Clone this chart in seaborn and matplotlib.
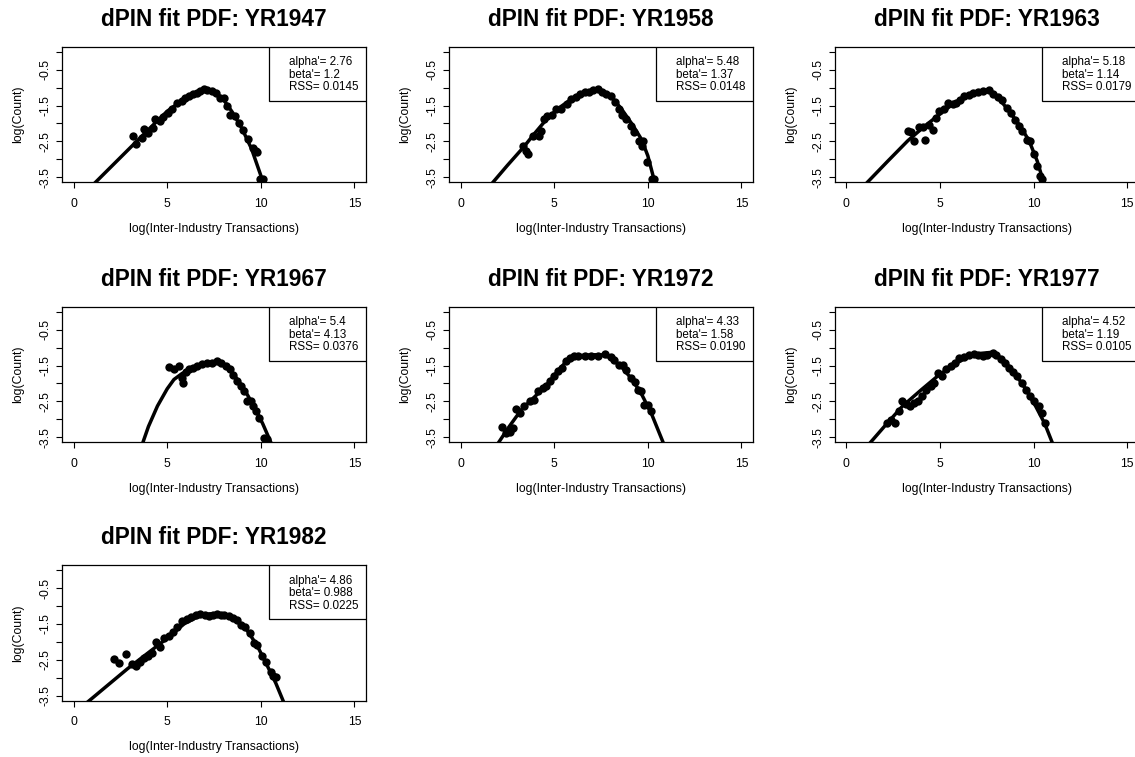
import numpy as np
import pandas as pd
import matplotlib
matplotlib.use("Agg")
import matplotlib.pyplot as plt
import seaborn as sns
from matplotlib.patches import Rectangle

years = ["1947", "1958", "1963", "1967", "1972", "1977", "1982"]
alpha_vals = ["2.76", "5.48", "5.18", "5.4", "4.33", "4.52", "4.86"]
beta_vals = ["1.2", "1.37", "1.14", "4.13", "1.58", "1.19", "0.988"]
rss_vals = ["0.0145", "0.0148", "0.0179", "0.0376", "0.0190", "0.0105", "0.0225"]

# observed points (log transactions, log count)
x_1947 = [3.15, 3.35, 3.65, 3.77, 3.95, 4.23, 4.36, 4.59, 4.80, 5.07, 5.25, 5.52, 5.78, 5.96, 6.14,
          6.37, 6.58, 6.76, 6.98, 7.15, 7.38, 7.62, 7.83, 8.04, 8.19, 8.36, 8.63, 8.86, 9.07, 9.29,
          9.56, 9.75, 9.82, 9.93, 10.14]
y_1947 = [-2.35, -2.58, -2.40, -2.15, -2.26, -2.12, -1.87, -1.94, -1.81, -1.70, -1.61, -1.43, -1.38, -1.29, -1.24,
          -1.19, -1.15, -1.10, -1.04, -1.06, -1.10, -1.15, -1.29, -1.29, -1.52, -1.75, -1.80, -1.98, -2.17, -2.44,
          -2.68, -2.77, -2.80, -3.55, -3.55]
x_1958 = [3.35, 3.47, 3.61, 3.88, 4.18, 4.32, 4.47, 4.64, 4.86, 5.12, 5.39, 5.66, 5.89, 6.14, 6.37,
          6.64, 6.85, 7.08, 7.35, 7.56, 7.79, 8.02, 8.24, 8.45, 8.63, 8.86, 9.09, 9.27, 9.52, 9.75,
          9.70, 9.93, 10.20, 10.34]
y_1958 = [-2.62, -2.76, -2.85, -2.34, -2.34, -2.20, -1.87, -1.78, -1.76, -1.60, -1.60, -1.46, -1.32, -1.27, -1.18,
          -1.13, -1.11, -1.08, -1.04, -1.11, -1.18, -1.24, -1.41, -1.60, -1.76, -1.87, -2.06, -2.25, -2.48, -2.48,
          -2.62, -3.08, -3.55, -3.55]
x_1963 = [3.29, 3.46, 3.64, 3.91, 4.09, 4.23, 4.41, 4.62, 4.80, 4.97, 5.24, 5.42, 5.68, 5.86, 6.07,
          6.31, 6.57, 6.75, 7.02, 7.28, 7.60, 7.85, 8.08, 8.31, 8.56, 8.79, 9.02, 9.24, 9.41, 9.63,
          9.80, 10.04, 10.21, 10.34, 10.44]
y_1963 = [-2.20, -2.25, -2.48, -2.11, -2.11, -2.45, -2.03, -2.17, -1.85, -1.66, -1.61, -1.43, -1.45, -1.43, -1.34,
          -1.24, -1.20, -1.15, -1.13, -1.10, -1.08, -1.17, -1.26, -1.34, -1.57, -1.71, -1.89, -2.08, -2.22, -2.45,
          -2.49, -2.86, -3.19, -3.47, -3.56]
x_1967 = [5.10, 5.36, 5.63, 5.81, 5.86, 5.99, 6.16, 6.39, 6.61, 6.87, 7.14, 7.41, 7.67, 7.89, 8.12,
          8.35, 8.53, 8.74, 8.95, 9.09, 9.27, 9.48, 9.59, 9.72, 9.89, 10.16, 10.34]
y_1967 = [-1.54, -1.59, -1.50, -1.84, -1.98, -1.69, -1.61, -1.56, -1.50, -1.47, -1.44, -1.44, -1.38, -1.43, -1.52,
          -1.61, -1.75, -1.94, -2.07, -2.21, -2.49, -2.49, -2.63, -2.77, -2.95, -3.51, -3.56]
x_1972 = [2.22, 2.45, 2.63, 2.81, 2.98, 3.16, 3.39, 3.69, 3.93, 4.14, 4.40, 4.58, 4.76, 4.99, 5.20,
          5.42, 5.65, 5.83, 6.06, 6.27, 6.63, 6.98, 7.34, 7.73, 8.01, 8.22, 8.44, 8.67, 8.85, 9.08,
          9.29, 9.47, 9.61, 9.82, 10.00, 10.18]
y_1972 = [-3.22, -3.37, -3.34, -3.24, -2.71, -2.82, -2.64, -2.50, -2.45, -2.22, -2.13, -2.08, -1.94, -1.78, -1.66,
          -1.57, -1.38, -1.29, -1.24, -1.23, -1.24, -1.23, -1.23, -1.17, -1.26, -1.34, -1.48, -1.48, -1.62, -1.85,
          -1.97, -2.17, -2.22, -2.59, -2.59, -2.78]
x_1977 = [2.19, 2.37, 2.60, 2.82, 3.00, 3.17, 3.39, 3.62, 3.85, 4.06, 4.28, 4.51, 4.69, 4.92, 5.13,
          5.35, 5.58, 5.81, 6.02, 6.29, 6.56, 6.83, 7.06, 7.31, 7.54, 7.81, 8.02, 8.25, 8.48, 8.70,
          8.91, 9.14, 9.38, 9.59, 9.80, 10.03, 10.27, 10.45, 10.62]
y_1977 = [-3.09, -3.03, -3.10, -2.78, -2.50, -2.56, -2.64, -2.55, -2.50, -2.36, -2.18, -2.08, -1.99, -1.71, -1.78,
          -1.60, -1.52, -1.43, -1.29, -1.26, -1.22, -1.17, -1.22, -1.24, -1.20, -1.15, -1.22, -1.32, -1.43, -1.57,
          -1.69, -1.80, -1.99, -2.18, -2.36, -2.50, -2.64, -2.81, -3.09]
x_1982 = [2.17, 2.43, 2.79, 3.14, 3.32, 3.55, 3.77, 3.98, 4.21, 4.39, 4.62, 4.83, 5.10, 5.33, 5.54,
          5.81, 6.04, 6.29, 6.52, 6.75, 7.00, 7.23, 7.46, 7.64, 7.85, 8.06, 8.29, 8.53, 8.74, 8.95,
          9.18, 9.41, 9.63, 9.80, 10.07, 10.25, 10.52, 10.66, 10.83]
y_1982 = [-2.47, -2.58, -2.33, -2.61, -2.66, -2.57, -2.45, -2.38, -2.30, -1.99, -2.15, -1.90, -1.84, -1.73, -1.59,
          -1.43, -1.37, -1.31, -1.26, -1.22, -1.26, -1.28, -1.24, -1.22, -1.24, -1.26, -1.28, -1.34, -1.40, -1.52,
          -1.59, -1.75, -2.03, -2.10, -2.38, -2.57, -2.83, -2.94, -2.98]

# fitted dPlN curves
fit_x_1947 = [1.0, 2.0, 3.0, 4.0, 5.0, 5.5, 6.0, 6.5, 7.0, 7.5, 8.0, 8.5, 9.0, 9.5, 10.0, 10.3]
fit_y_1947 = [-3.73, -3.21, -2.69, -2.17, -1.66, -1.47, -1.30, -1.15, -1.04, -1.10, -1.33, -1.70, -2.15, -2.70, -3.45, -3.90]
fit_x_1958 = [1.6, 2.5, 3.35, 4.0, 4.68, 5.3, 5.93, 6.6, 7.35, 8.0, 8.6, 9.2, 9.66, 10.0, 10.4]
fit_y_1958 = [-3.72, -3.17, -2.67, -2.25, -1.83, -1.55, -1.32, -1.15, -1.04, -1.22, -1.60, -2.05, -2.44, -2.90, -3.70]
fit_x_1963 = [1.0, 2.2, 3.29, 4.2, 4.97, 5.6, 6.22, 6.9, 7.55, 8.1, 8.7, 9.3, 9.77, 10.2, 10.6]
fit_y_1963 = [-3.71, -3.06, -2.48, -2.07, -1.75, -1.50, -1.29, -1.15, -1.08, -1.27, -1.66, -2.08, -2.49, -3.05, -3.75]
fit_x_1967 = [3.6, 4.0, 4.48, 5.0, 5.36, 5.8, 6.25, 7.0, 7.67, 8.1, 8.56, 9.1, 9.63, 10.1, 10.6]
fit_y_1967 = [-3.80, -3.20, -2.63, -2.15, -1.89, -1.72, -1.61, -1.48, -1.43, -1.52, -1.75, -2.15, -2.63, -3.12, -3.72]
fit_x_1972 = [1.9, 2.6, 3.25, 4.0, 4.67, 5.2, 5.74, 6.1, 6.45, 7.0, 7.51, 8.0, 8.58, 9.1, 9.64, 10.2, 10.9]
fit_y_1972 = [-3.75, -3.20, -2.73, -2.35, -2.00, -1.65, -1.33, -1.25, -1.22, -1.20, -1.20, -1.28, -1.53, -1.85, -2.27, -2.85, -3.75]
fit_x_1977 = [1.2, 2.1, 2.99, 4.0, 4.96, 5.8, 6.56, 7.2, 7.81, 8.4, 9.06, 9.6, 10.12, 10.6, 11.1]
fit_y_1977 = [-3.70, -3.16, -2.64, -2.18, -1.76, -1.46, -1.24, -1.16, -1.13, -1.35, -1.76, -2.17, -2.64, -3.12, -3.78]
fit_x_1982 = [0.7, 1.8, 2.88, 4.0, 5.0, 5.9, 6.78, 7.3, 7.85, 8.6, 9.27, 9.8, 10.34, 10.8, 11.3]
fit_y_1982 = [-3.70, -3.22, -2.75, -2.30, -1.90, -1.50, -1.26, -1.22, -1.22, -1.36, -1.68, -2.10, -2.66, -3.15, -3.78]

points = [(x_1947, y_1947), (x_1958, y_1958), (x_1963, y_1963), (x_1967, y_1967),
          (x_1972, y_1972), (x_1977, y_1977), (x_1982, y_1982)]
fits = [(fit_x_1947, fit_y_1947), (fit_x_1958, fit_y_1958), (fit_x_1963, fit_y_1963), (fit_x_1967, fit_y_1967),
        (fit_x_1972, fit_y_1972), (fit_x_1977, fit_y_1977), (fit_x_1982, fit_y_1982)]

y_ticks = [0, -0.5, -1, -1.5, -2, -2.5, -3, -3.5]
y_ticklabels = ["", "-0.5", "", "-1.5", "", "-2.5", "", "-3.5"]
x_ticks = [0, 5, 10, 15]

sns.set_theme(style="ticks")
plt.rcParams['font.family'] = ['Liberation Sans', 'DejaVu Sans']
plt.rcParams['text.color'] = 'black'
plt.rcParams['axes.labelcolor'] = 'black'

W, H = 1135, 757
fig = plt.figure(figsize=(W / 100, H / 100), dpi=100, facecolor="white")

col_left = [62.3, 449.3, 835.0]
row_top = [46.7, 306.7, 565.1]
box_w, box_h = 303.4, 135.6

for i, yr in enumerate(years):
    r, c = divmod(i, 3)
    ax = fig.add_axes([col_left[c] / W, 1 - (row_top[r] + box_h) / H, box_w / W, box_h / H])
    px, py = points[i]
    fx, fy = fits[i]
    sns.lineplot(x=fx, y=fy, ax=ax, color="black", linewidth=2.5, sort=False, estimator=None)
    sns.scatterplot(x=px, y=py, ax=ax, color="black", s=36, linewidth=0)

    ax.set_xlim(-0.6, 15.6)
    ax.set_ylim(-3.64, 0.14)
    ax.set_xticks(x_ticks)
    ax.set_xticklabels([str(t) for t in x_ticks])
    ax.set_yticks(y_ticks)
    ax.set_yticklabels(y_ticklabels, rotation=90, va="center")
    ax.tick_params(direction="out", length=4.3, width=0.8, labelsize=8.8, colors="black",
                   bottom=True, left=True)
    ax.tick_params(axis="x", pad=7)
    ax.tick_params(axis="y", pad=3.4)
    for sp in ax.spines.values():
        sp.set_visible(True)
        sp.set_color("black")
        sp.set_linewidth(0.9)

    ax.set_title("dPIN fit PDF: YR" + yr, fontsize=16.3, fontweight="bold", pad=15, color="black")
    ax.set_xlabel("log(Inter-Industry Transactions)", fontsize=8.8)
    ax.set_ylabel("log(Count)", fontsize=8.8)
    ax.xaxis.set_label_coords(0.5, -0.30)
    ax.yaxis.set_label_coords(-0.125, 0.5)

    # legend-style box with fit statistics
    ax.add_patch(Rectangle((0.681, 0.600), 0.319, 0.400, transform=ax.transAxes,
                           facecolor="white", edgecolor="black", linewidth=0.9, zorder=5))
    stats = ["alpha'= " + alpha_vals[i], "beta'= " + beta_vals[i], "RSS= " + rss_vals[i]]
    for txt, yy in zip(stats, [0.885, 0.791, 0.701]):
        ax.text(0.747, yy, txt, transform=ax.transAxes, fontsize=8.4, va="center", ha="left", zorder=6)

fig.savefig("out.png", dpi=100, facecolor="white")
